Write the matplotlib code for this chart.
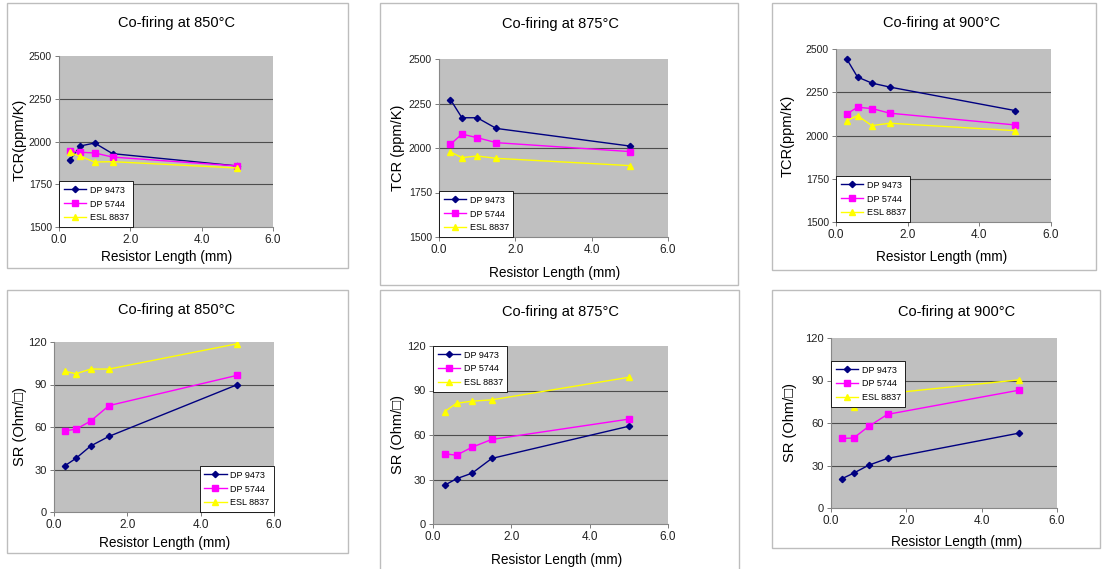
import matplotlib
matplotlib.use("Agg")
import matplotlib.pyplot as plt
from matplotlib.patches import Rectangle

plt.rcParams['font.family'] = ['Liberation Sans', 'DejaVu Sans']

W, H = 1102, 569

# ---- data ----
lengths = [0.3, 0.6, 1.0, 1.5, 5.0]
series_names = ["DP 9473", "DP 5744", "ESL 8837"]

tcr_850_dp9473 = [1890, 1974, 1991, 1929, 1857]
tcr_850_dp5744 = [1946, 1937, 1933, 1909, 1857]
tcr_850_esl8837 = [1936, 1913, 1880, 1882, 1845]

tcr_875_dp9473 = [2272, 2170, 2170, 2110, 2011]
tcr_875_dp5744 = [2021, 2078, 2058, 2030, 1980]
tcr_875_esl8837 = [1978, 1946, 1955, 1942, 1901]

tcr_900_dp9473 = [2442, 2338, 2303, 2280, 2144]
tcr_900_dp5744 = [2125, 2163, 2156, 2129, 2061]
tcr_900_esl8837 = [2086, 2115, 2057, 2071, 2028]

sr_850_dp9473 = [32.7, 37.9, 46.6, 53.4, 89.9]
sr_850_dp5744 = [57.4, 58.4, 64.2, 75.1, 96.5]
sr_850_esl8837 = [99.3, 97.6, 100.9, 100.9, 118.8]

sr_875_dp9473 = [26.2, 30.5, 34.3, 44.2, 65.9]
sr_875_dp5744 = [47.3, 46.4, 51.8, 57.0, 70.7]
sr_875_esl8837 = [75.8, 81.4, 82.8, 83.7, 98.9]

sr_900_dp9473 = [20.8, 24.6, 30.2, 35.0, 52.9]
sr_900_dp5744 = [49.1, 49.4, 57.6, 66.1, 83.2]
sr_900_esl8837 = [73.9, 71.3, 82.0, 80.8, 90.5]

titles = ["Co-firing at 850°C", "Co-firing at 875°C", "Co-firing at 900°C",
          "Co-firing at 850°C", "Co-firing at 875°C", "Co-firing at 900°C"]
ylabels = ["TCR(ppm/K)", "TCR (ppm/K)", "TCR(ppm/K)",
           "SR (Ohm/□)", "SR (Ohm/□)", "SR (Ohm/□)"]
xlabel = "Resistor Length (mm)"
x_ticks = [0.0, 2.0, 4.0, 6.0]
tcr_ticks = [1500, 1750, 2000, 2250, 2500]
sr_ticks = [0, 30, 60, 90, 120]

data = [
    (tcr_850_dp9473, tcr_850_dp5744, tcr_850_esl8837),
    (tcr_875_dp9473, tcr_875_dp5744, tcr_875_esl8837),
    (tcr_900_dp9473, tcr_900_dp5744, tcr_900_esl8837),
    (sr_850_dp9473, sr_850_dp5744, sr_850_esl8837),
    (sr_875_dp9473, sr_875_dp5744, sr_875_esl8837),
    (sr_900_dp9473, sr_900_dp5744, sr_900_esl8837),
]

# ---- layout (pixels) ----
boxes = [(7, 3, 348, 268), (380, 3, 738, 285), (772, 3, 1096, 270),
         (7, 290, 348, 553), (380, 290, 739, 575), (772, 290, 1100, 548)]
axes_px = [(59, 56, 273, 227), (439, 59, 668, 237), (836, 49, 1051, 222),
           (54, 342, 274, 512), (433, 346, 668, 524), (831, 338, 1057, 508)]
title_pos = [(177, 23), (560, 24), (942, 23), (177, 310), (560, 312), (957, 312)]
xlabel_pos = [(167, 257), (555, 273), (942, 257), (165, 543), (557, 560), (957, 542)]
ylabel_pos = [(20, 140), (398, 148), (788, 136), (20, 427), (398, 435), (790, 423)]
legend_loc = ["lower left", "lower left", "lower left", "lower right", "upper left", "upper left"]
legend_anchor = [(0, 0), (0, 0), (0, 0), (1, 0), (0, 1), (0, 1 - 23 / 170)]

colors = ["#000080", "#FF00FF", "#FFFF00"]
markers = ["D", "s", "^"]
msizes = [3.2, 4.5, 4.5]

fig = plt.figure(figsize=(W / 100, H / 100), dpi=100)
fig.patch.set_facecolor("white")

def fx(x):
    return x / W

def fy(y):
    return 1 - y / H

for i in range(6):
    l, t, r, b = boxes[i]
    fig.patches.append(Rectangle((fx(l), fy(b)), fx(r - l), (b - t) / H,
                                 transform=fig.transFigure, fill=False,
                                 edgecolor="#BDBDBD", linewidth=1.0, zorder=0))
    al, at, ar, ab = axes_px[i]
    ax = fig.add_axes([fx(al), fy(ab), fx(ar - al), (ab - at) / H])
    ax.set_facecolor("#C0C0C0")
    yt = tcr_ticks if i < 3 else sr_ticks
    for v in yt[1:-1]:
        ax.axhline(v, color="#4d4d4d", linewidth=0.8, zorder=1)
    for j in range(3):
        ax.plot(lengths, data[i][j], color=colors[j], marker=markers[j],
                markersize=msizes[j], linewidth=1.0, label=series_names[j], zorder=3)
    ax.set_xlim(0, 6)
    ax.set_ylim(yt[0], yt[-1])
    ax.set_xticks(x_ticks)
    ax.set_xticklabels([f"{v:.1f}" for v in x_ticks], fontsize=8.5, color="#222222")
    ax.set_yticks(yt)
    ax.set_yticklabels([str(v) for v in yt], fontsize=7.5 if i < 3 else 8, color="#222222")
    ax.tick_params(length=3, width=0.6, color="#666666", pad=2)
    for s in ["top", "right"]:
        ax.spines[s].set_visible(False)
    for s in ["left", "bottom"]:
        ax.spines[s].set_color("#888888")
        ax.spines[s].set_linewidth(0.8)
    leg = ax.legend(loc=legend_loc[i], bbox_to_anchor=legend_anchor[i], borderaxespad=0,
                    fontsize=6.5, frameon=True, fancybox=False, handlelength=2.5,
                    labelspacing=0.55, borderpad=0.5, handletextpad=0.4)
    leg.get_frame().set_edgecolor("black")
    leg.get_frame().set_linewidth(0.6)
    leg.get_frame().set_facecolor("white")
    leg.get_frame().set_alpha(1)

    tx, ty = title_pos[i]
    fig.text(fx(tx), fy(ty), titles[i], ha="center", va="center", fontsize=10.5)
    lx, ly = xlabel_pos[i]
    fig.text(fx(lx), fy(ly), xlabel, ha="center", va="center", fontsize=9.8)
    yx, yy = ylabel_pos[i]
    fig.text(fx(yx), fy(yy), ylabels[i], ha="center", va="center", rotation=90, fontsize=10.5)

fig.savefig("out.png", dpi=100)
